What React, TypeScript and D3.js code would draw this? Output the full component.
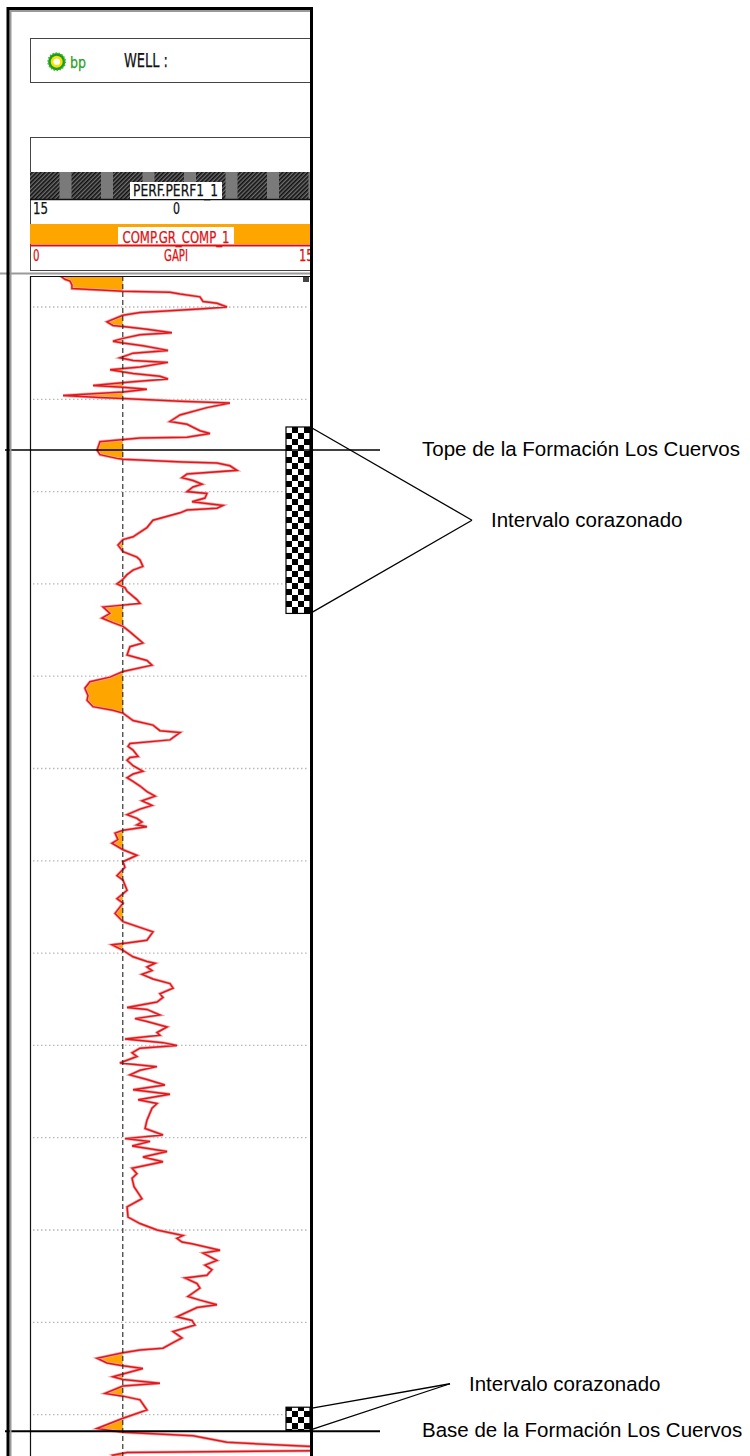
import React from 'react';
import * as d3 from 'd3';

// Gamma-ray log: [depth (ft), GR (GAPI)]
const grLog: [number, number][] = [
  [4096.6, 15.5], [4097.0, 18.1], [4097.2, 20.7], [4097.6, 21.7], [4098.0, 21.7], [4098.2, 41.4], [4098.3, 48.1], [4098.4, 72.4], [4098.6, 77.6], [4098.9, 87.9],
  [4099.4, 89.5], [4099.6, 96.7], [4100.0, 101.9], [4100.2, 89.5], [4100.4, 72.4], [4100.6, 56.9], [4100.9, 48.1], [4101.6, 39.8], [4102.0, 42.9], [4102.1, 48.1],
  [4102.4, 60.5], [4102.8, 73.4], [4103.0, 56.9], [4103.4, 48.1], [4103.7, 42.9], [4103.9, 48.1], [4104.2, 58.4], [4104.7, 71.4], [4105.0, 53.3], [4105.5, 46.5],
  [4105.8, 53.3], [4106.0, 71.4], [4106.5, 56.9], [4106.8, 41.4], [4107.2, 53.3], [4107.5, 67.2], [4107.8, 71.4], [4108.1, 53.3], [4108.5, 32.6], [4108.7, 48.1],
  [4108.9, 60.5], [4109.2, 48.1], [4109.6, 17.1], [4109.8, 36.2], [4109.9, 48.1], [4110.2, 77.6], [4110.4, 103.4], [4110.9, 91.5], [4111.7, 77.6], [4112.4, 72.4],
  [4112.7, 81.2], [4113.4, 87.9], [4113.7, 93.1], [4114.1, 81.2], [4114.2, 56.9], [4114.6, 36.2], [4115.5, 34.7], [4116.0, 36.2], [4116.4, 45.0], [4116.5, 48.1],
  [4116.8, 79.1], [4116.9, 96.7], [4117.2, 103.4], [4117.7, 107.1], [4118.1, 81.2], [4118.5, 78.6], [4118.8, 84.3], [4119.2, 89.0], [4119.5, 84.3], [4120.0, 81.2],
  [4120.2, 91.5], [4120.7, 90.5], [4121.1, 83.8], [4121.5, 99.8], [4121.8, 96.7], [4122.0, 81.2], [4122.3, 77.6], [4123.1, 63.6], [4123.9, 60.5], [4124.9, 53.3],
  [4125.2, 48.1], [4125.8, 45.5], [4126.5, 48.1], [4127.1, 55.3], [4127.4, 56.9], [4128.1, 58.4], [4128.5, 53.3], [4129.0, 50.2], [4129.6, 47.6], [4130.0, 45.0],
  [4130.4, 49.1], [4130.8, 50.2], [4131.7, 55.3], [4132.1, 56.9], [4132.3, 48.1], [4132.5, 37.8], [4133.2, 41.4], [4133.7, 37.2], [4134.2, 42.9], [4134.6, 48.1],
  [4135.2, 51.7], [4136.4, 58.4], [4136.8, 51.7], [4137.7, 50.2], [4138.3, 60.5], [4138.8, 63.1], [4139.5, 48.1], [4140.1, 41.4], [4140.6, 31.0], [4141.3, 28.4],
  [4142.1, 30.0], [4142.6, 29.5], [4143.3, 32.6], [4143.7, 42.9], [4144.0, 48.1], [4144.8, 53.3], [4145.3, 63.6], [4145.9, 67.2], [4146.1, 77.6], [4146.9, 72.4],
  [4147.3, 51.7], [4147.6, 50.7], [4148.0, 53.3], [4148.7, 55.9], [4148.8, 51.7], [4149.1, 50.2], [4149.7, 53.3], [4150.3, 58.4], [4150.6, 53.3], [4151.0, 50.2],
  [4151.4, 53.3], [4151.9, 56.9], [4152.5, 60.5], [4153.0, 64.7], [4153.5, 57.9], [4154.0, 63.1], [4154.4, 56.9], [4155.0, 50.2], [4155.4, 55.3], [4155.8, 57.9],
  [4156.1, 55.3], [4156.3, 60.5], [4156.7, 48.1], [4157.0, 44.0], [4157.7, 45.5], [4158.1, 42.4], [4158.8, 48.1], [4159.4, 55.3],
  [4160.1, 48.1], [4160.7, 49.1], [4161.6, 45.0], [4162.1, 48.1], [4163.2, 50.2], [4164.1, 45.0], [4164.6, 48.1], [4165.7, 44.0], [4166.6, 48.1], [4167.7, 63.6],
  [4168.6, 60.5], [4168.9, 50.2], [4169.1, 42.4], [4169.7, 48.1], [4170.4, 53.3], [4170.9, 60.5], [4171.1, 64.7], [4171.5, 60.5], [4171.9, 63.1], [4172.3, 57.9],
  [4172.8, 63.6], [4173.3, 72.4], [4173.8, 74.0], [4174.4, 67.2], [4174.8, 68.8], [4175.3, 65.7], [4175.9, 50.2], [4176.1, 60.5], [4176.7, 67.2], [4177.1, 54.3],
  [4177.4, 60.5], [4178.0, 70.9], [4178.6, 65.7], [4178.9, 67.2], [4179.3, 49.1], [4179.7, 68.8], [4180.0, 76.0], [4180.3, 56.9], [4180.8, 52.8], [4181.2, 55.3],
  [4181.9, 46.5], [4182.3, 65.7], [4182.7, 56.9], [4183.2, 51.7], [4183.7, 60.5], [4184.3, 69.8], [4184.8, 53.3], [4185.3, 72.4], [4185.9, 55.9], [4186.3, 65.7],
  [4186.8, 63.1], [4188.1, 60.5], [4189.0, 59.5], [4189.7, 68.8], [4190.1, 49.1], [4190.4, 62.1], [4190.9, 52.8], [4191.5, 70.9], [4192.1, 58.4], [4192.6, 68.8],
  [4193.3, 52.8], [4193.9, 55.3], [4194.4, 52.8], [4195.3, 53.8], [4196.6, 57.9], [4197.5, 50.2], [4198.6, 50.7], [4199.3, 56.9], [4200.0, 65.7], [4200.6, 79.1],
  [4200.9, 76.0], [4201.3, 78.6], [4201.5, 83.8], [4202.2, 98.3], [4202.5, 89.5], [4203.3, 96.7], [4203.8, 90.5], [4204.3, 94.1], [4204.9, 91.5], [4205.2, 80.2],
  [4205.8, 86.4], [4206.3, 87.9], [4207.2, 81.7], [4207.6, 87.9], [4208.1, 96.7], [4208.4, 86.4], [4209.4, 76.0], [4209.8, 83.8], [4210.3, 85.3], [4211.0, 74.0],
  [4211.7, 78.6], [4212.2, 74.0], [4212.8, 68.8], [4213.0, 56.9], [4213.3, 48.1], [4213.9, 34.7], [4214.4, 39.8], [4214.7, 48.1], [4215.0, 58.4], [4215.9, 42.9],
  [4216.2, 48.1], [4216.6, 67.2], [4216.9, 48.1], [4217.7, 38.8], [4218.0, 48.1], [4218.4, 56.9], [4219.5, 60.5], [4220.4, 48.1], [4221.5, 34.7], [4221.9, 48.1],
  [4222.3, 84.3], [4223.0, 101.9], [4223.5, 150.0], [4223.9, 150.0], [4224.1, 50.2], [4224.4, 42.9], [4224.7, 45.5],
];

const grScaleMin = 0;
const grScaleMax = 150;
const grCutoff = 48;
const gridDepths = [4100, 4110, 4120, 4130, 4140, 4150, 4160, 4170, 4180, 4190, 4200, 4210, 4220];

const formationNames = ['Tope de la Formación Los Cuervos', 'Base de la Formación Los Cuervos'];
const formationDepths = [4115.5, 4221.8];

const coreTopDepths = [4113.0, 4219.2];
const coreBaseDepths = [4133.2, 4221.7];
const coreLabel = 'Intervalo corazonado';

const wellLabel = 'WELL :';
const logoText = 'bp';
const perfTrackName = 'PERF.PERF1_1';
const perfScaleLabels = ['15', '0'];
const grTrackName = 'COMP.GR_COMP_1';
const grUnit = 'GAPI';
const grScaleLabels = ['0', '150'];

const pixelFont = "'Liberation Sans Narrow', 'DejaVu Sans Condensed', 'Arial Narrow', sans-serif";
const labelFont = "'Liberation Sans', Arial, Helvetica, sans-serif";

export default function App() {
  const W = 750;
  const H = 1456;
  const frameRight = 311.5;
  const trackLeft = 30.5;
  const trackTop = 276;

  const x = d3.scaleLinear().domain([grScaleMin, grScaleMax]).range([30, 320]);
  const y = d3.scaleLinear().domain([4100, 4220]).range([307, 1414.6]);

  const line = d3.line<[number, number]>().x((d) => x(d[1])).y((d) => y(d[0]));

  // insert crossings with the cutoff so the shading closes cleanly
  const fillPts: [number, number][] = [];
  grLog.forEach((p, i) => {
    if (i > 0) {
      const q = grLog[i - 1];
      if ((q[1] - grCutoff) * (p[1] - grCutoff) < 0) {
        const t = (grCutoff - q[1]) / (p[1] - q[1]);
        fillPts.push([q[0] + t * (p[0] - q[0]), grCutoff]);
      }
    }
    fillPts.push(p);
  });
  const area = d3
    .area<[number, number]>()
    .y((d) => y(d[0]))
    .x0((d) => x(Math.min(d[1], grCutoff)))
    .x1(() => x(grCutoff));

  const cutX = x(grCutoff);
  const hatchBlocks = d3.range(7).map((i) => 30 + i * 41.5);

  // annotation layout
  const coreTipX = [472, 450];
  const coreTipDy = [0, -35];
  const cell = 6;

  const pixelText = {
    fontFamily: pixelFont,
    lengthAdjust: 'spacingAndGlyphs' as const,
    stroke: 'currentColor',
    strokeWidth: 0.25,
  };

  return (
    <svg
      width={W}
      height={H}
      viewBox={`0 0 ${W} ${H}`}
      style={{ position: 'absolute', left: 0, top: 0, background: '#fff' }}
    >
      <defs>
        <clipPath id="trackClip">
          <rect x={31} y={trackTop} width={frameRight - 31} height={H - trackTop} />
        </clipPath>
        <clipPath id="headClip">
          <rect x={0} y={0} width={frameRight - 1} height={H} />
        </clipPath>
        <pattern id="hatch" width={3} height={3} patternUnits="userSpaceOnUse" patternTransform="rotate(-45)">
          <rect width={3} height={3} fill="#6e6e6e" />
          <rect width={3} height={1.6} fill="#111" />
        </pattern>
        <pattern id="checker" x={286} y={427} width={cell * 2} height={cell * 2} patternUnits="userSpaceOnUse">
          <rect width={cell * 2} height={cell * 2} fill="#fff" />
          <rect x={cell} y={0} width={cell} height={cell} fill="#000" />
          <rect x={0} y={cell} width={cell} height={cell} fill="#000" />
        </pattern>
      </defs>

      <rect x={0} y={0} width={W} height={H} fill="#fff" />

      {/* header panels */}
      <g clipPath="url(#headClip)">
        <rect x={30.5} y={38.5} width={300} height={44} fill="#fff" stroke="#444" strokeWidth={1} />
        <g transform="translate(56.7,61.7)">
          <circle r={8.6} fill="#1f9a1f" stroke="#3cb83c" strokeWidth={1.6} strokeDasharray="1.5 1.5" />
          <circle r={6} fill="#f5e400" />
          <circle r={3.3} fill="#fff" />
        </g>
        <text x={70} y={68} {...pixelText} fontSize={16} fill="#2a9d2a" color="#2a9d2a" textLength={16}>
          {logoText}
        </text>
        <text x={124} y={66.5} {...pixelText} fontSize={19} fill="#111" color="#111" textLength={44}>
          {wellLabel}
        </text>

        <rect x={30.5} y={137.5} width={300} height={133} fill="#fff" stroke="#444" strokeWidth={1} />
        {/* perforation track legend */}
        <rect x={30} y={172} width={290} height={27} fill="#7a7a7a" />
        {hatchBlocks.map((bx, i) => (
          <rect key={i} x={bx} y={172} width={29.5} height={27} fill="url(#hatch)" />
        ))}
        <line x1={30} x2={320} y1={199.5} y2={199.5} stroke="#111" strokeWidth={1.5} />
        <rect x={130} y={182} width={92} height={17} fill="#fff" />
        <text x={133} y={196.3} {...pixelText} fontSize={15.5} fill="#111" color="#111" textLength={85}>
          {perfTrackName}
        </text>
        <text x={33} y={214} {...pixelText} fontSize={15.5} fill="#111" color="#111" textLength={15}>
          {perfScaleLabels[0]}
        </text>
        <text x={173} y={214} {...pixelText} fontSize={15.5} fill="#111" color="#111" textLength={7}>
          {perfScaleLabels[1]}
        </text>

        {/* gamma-ray track legend */}
        <rect x={30} y={224} width={290} height={20} fill="#ffa500" />
        <line x1={30} x2={320} y1={245.5} y2={245.5} stroke="#e01010" strokeWidth={2} />
        <rect x={118} y={227} width={116} height={17} fill="#fff" />
        <text x={122.5} y={242.5} {...pixelText} fontSize={16} fill="#e01010" color="#e01010" textLength={107}>
          {grTrackName}
        </text>
        <text x={33} y={260.5} {...pixelText} fontSize={16} fill="#e01010" color="#e01010" textLength={6.5}>
          {grScaleLabels[0]}
        </text>
        <text x={164} y={260.5} {...pixelText} fontSize={16} fill="#e01010" color="#e01010" textLength={24}>
          {grUnit}
        </text>
        <text x={299} y={260.5} {...pixelText} fontSize={16} fill="#e01010" color="#e01010" textLength={22}>
          {grScaleLabels[1]}
        </text>
      </g>
      <line x1={0} x2={frameRight} y1={273.5} y2={273.5} stroke="#9a9a9a" strokeWidth={2} />

      {/* depth grid */}
      {gridDepths.map((d) => (
        <line
          key={d}
          x1={33}
          x2={308}
          y1={y(d)}
          y2={y(d)}
          stroke="#b8b8b8"
          strokeWidth={1.3}
          strokeDasharray="1.5 2.5"
        />
      ))}

      {/* GR curve with shading below the cutoff */}
      <g clipPath="url(#trackClip)">
        <path d={area(fillPts) ?? ''} fill="#ffa500" />
        <path d={line(grLog) ?? ''} fill="none" stroke="#f6a8a8" strokeWidth={3} strokeLinejoin="miter" />
        <path d={line(grLog) ?? ''} fill="none" stroke="#e3161b" strokeWidth={1.5} strokeLinejoin="miter" />
        <line x1={cutX} x2={cutX} y1={trackTop} y2={H} stroke="#222" strokeWidth={1.1} strokeDasharray="5 3" />
      </g>

      {/* track frame */}
      <line x1={trackLeft} x2={trackLeft} y1={trackTop} y2={H} stroke="#111" strokeWidth={1.2} />
      <line x1={30} x2={frameRight} y1={trackTop + 0.5} y2={trackTop + 0.5} stroke="#111" strokeWidth={1.2} />
      <rect x={303} y={277} width={6} height={5} fill="#444" />

      {/* cored intervals */}
      {coreTopDepths.map((top, i) => {
        const y0 = y(top);
        const y1 = y(coreBaseDepths[i]);
        const tipY = (y0 + y1) / 2 + coreTipDy[i];
        return (
          <g key={i}>
            <rect x={286} y={y0} width={24} height={y1 - y0} fill="url(#checker)" stroke="#000" strokeWidth={1.2} />
            <line x1={312} y1={y0 + 1} x2={coreTipX[i]} y2={tipY} stroke="#000" strokeWidth={1.3} />
            <line x1={312} y1={y1 - 1} x2={coreTipX[i]} y2={tipY} stroke="#000" strokeWidth={1.3} />
            <text x={coreTipX[i] + 19} y={tipY + 7} fontFamily={labelFont} fontSize={20.5} fill="#000">
              {coreLabel}
            </text>
          </g>
        );
      })}

      {/* formation tops */}
      {formationDepths.map((d, i) => (
        <g key={i}>
          <line x1={5} x2={380} y1={y(d)} y2={y(d)} stroke="#000" strokeWidth={i === 0 ? 1.4 : 2} />
          <text x={422} y={y(d) + 6} fontFamily={labelFont} fontSize={20.5} fill="#000">
            {formationNames[i]}
          </text>
        </g>
      ))}

      {/* outer frame */}
      <line x1={10.5} x2={10.5} y1={10} y2={H} stroke="#9a9a9a" strokeWidth={2} />
      <line x1={10} x2={frameRight} y1={11} y2={11} stroke="#9a9a9a" strokeWidth={2} />
      <line x1={8} x2={8} y1={7} y2={H} stroke="#000" strokeWidth={3} />
      <line x1={7} x2={frameRight + 1.5} y1={8.5} y2={8.5} stroke="#000" strokeWidth={3} />
      <line x1={frameRight} x2={frameRight} y1={7} y2={H} stroke="#000" strokeWidth={3} />
    </svg>
  );
}
